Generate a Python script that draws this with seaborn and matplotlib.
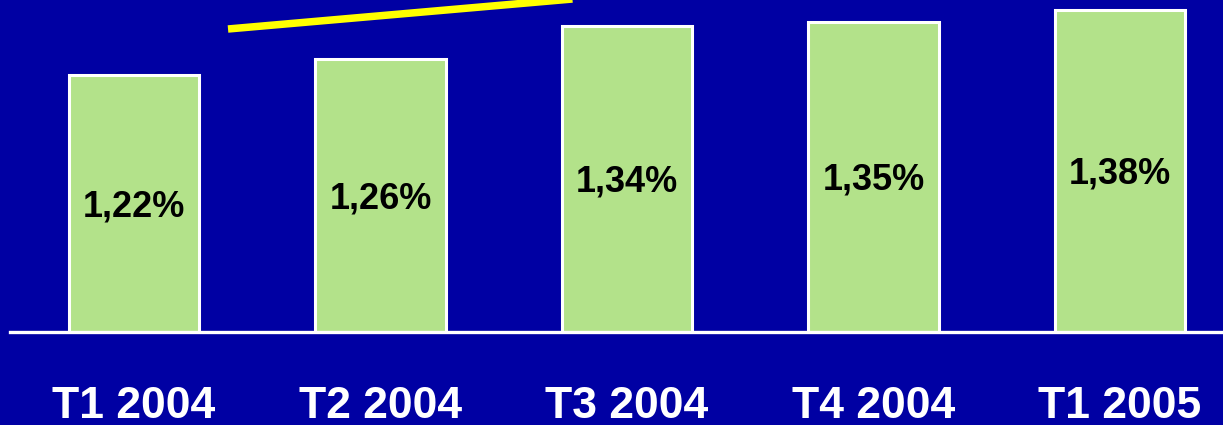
import matplotlib
matplotlib.use("Agg")
import matplotlib.pyplot as plt
import seaborn as sns
import pandas as pd
from matplotlib.lines import Line2D

periods = ["T1 2004", "T2 2004", "T3 2004", "T4 2004", "T1 2005"]
values = [1.22, 1.26, 1.34, 1.35, 1.38]
value_labels = ["1,22%", "1,26%", "1,34%", "1,35%", "1,38%"]

sns.set_theme(style="white")
plt.rcParams["font.family"] = ["Liberation Sans", "DejaVu Sans"]

BG = "#0000A3"
BAR = "#B3E28A"

W, H = 1223, 425
fig = plt.figure(figsize=(W / 100, H / 100), dpi=100, facecolor=BG)
ax = fig.add_axes([10 / W, 93 / H, (W - 10) / W, 332 / H])
ax.set_facecolor(BG)

df = pd.DataFrame({"period": periods, "value": values})
sns.barplot(data=df, x="period", y="value", color=BAR, saturation=1,
            width=0.53, edgecolor="white", linewidth=2.2, ax=ax)

ymin = 0.587
ax.set_ylim(ymin, 1.405)
ax.set_xlim(-0.503, 4.418)

for i, (v, lab) in enumerate(zip(values, value_labels)):
    ax.text(i, (ymin + v) / 2 - 0.008, lab, ha="center", va="center",
            fontsize=26, fontweight="bold", color="black")

for s in ["top", "right", "left"]:
    ax.spines[s].set_visible(False)
ax.spines["bottom"].set_color("white")
ax.spines["bottom"].set_linewidth(2.4)
ax.set_yticks([])
ax.set_xlabel("")
ax.set_ylabel("")
ax.tick_params(axis="x", length=0, pad=39, labelsize=32, labelcolor="white")
for t in ax.get_xticklabels():
    t.set_fontweight("bold")

# decorative yellow trend line
fig.add_artist(Line2D([228 / W, 600 / W], [1 - 29 / H, 1 + 3.4 / H],
                      transform=fig.transFigure, color="#FFFF00", lw=5.4,
                      solid_capstyle="butt"))

fig.savefig("out.png", dpi=100, facecolor=BG)
